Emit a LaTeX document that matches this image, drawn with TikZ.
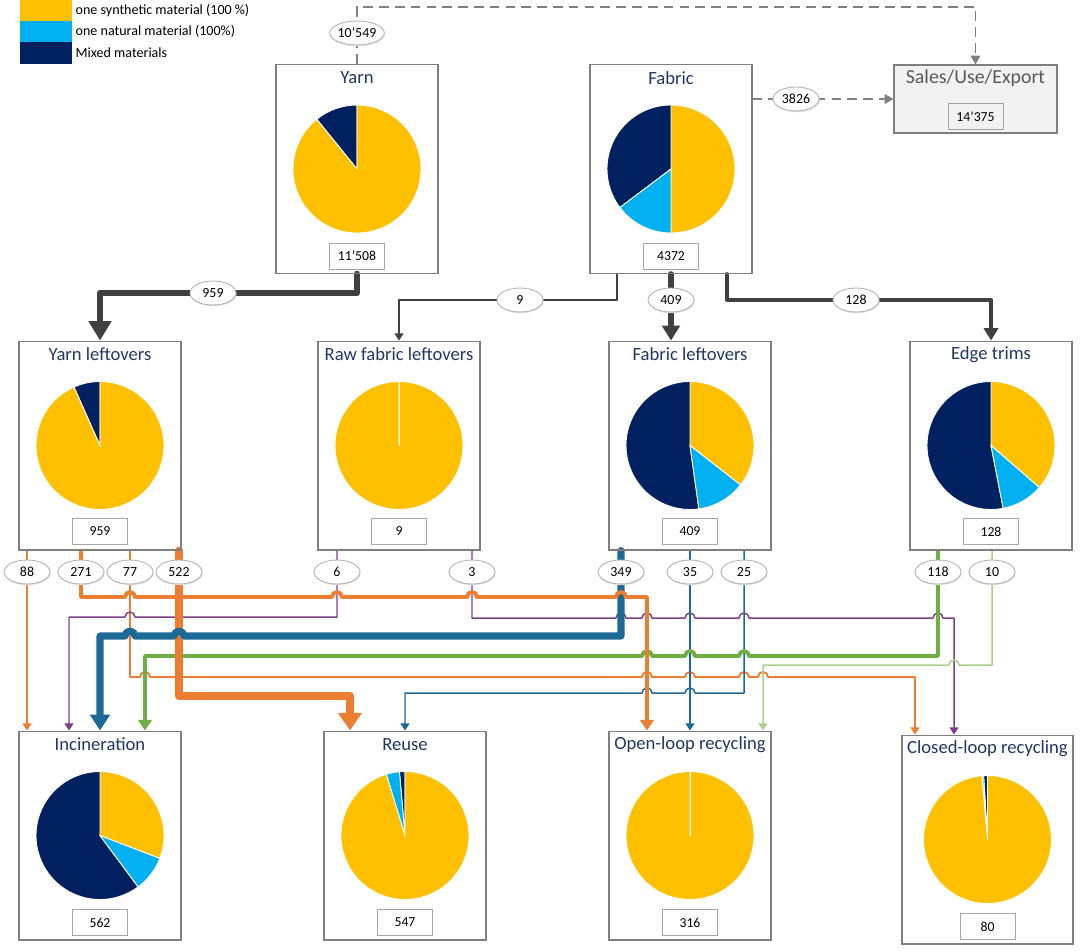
\documentclass[tikz,border=0pt]{standalone}
\usepackage{fontspec}
\setmainfont{Carlito}
\usetikzlibrary{arrows.meta,shapes.geometric,positioning,shadows}
\pgfdeclarelayer{bg}
\pgfsetlayers{bg,main}
\definecolor{ylw}{HTML}{FFC000}
\definecolor{cyn}{HTML}{00B0F0}
\definecolor{nvy}{HTML}{002060}
\definecolor{ttlblue}{HTML}{1F3864}
\definecolor{boxgray}{HTML}{7F7F7F}
\definecolor{org}{HTML}{ED7D31}
\definecolor{prp}{HTML}{7E3F88}
\definecolor{blu}{HTML}{1B6A96}
\definecolor{grn}{HTML}{70AD47}
\definecolor{lgrn}{HTML}{A9D18E}
\definecolor{dgray}{HTML}{404040}
\newcommand{\pierad}{1.28cm}
\newcommand{\pieslice}[4]{\fill[#1, draw=white, line width=0.5pt] (#2) -- ++(#3:\pierad) arc[start angle=#3, end angle=#4, radius=\pierad] -- cycle;}
\tikzset{
	box/.style={draw=boxgray, line width=0.6pt, minimum width=3.24cm, minimum height=4.18cm, inner sep=0pt},
	ttl/.style={text=ttlblue, font=\fontsize{10.6}{12}\selectfont, inner sep=0pt},
	val/.style={draw=black!35, line width=0.5pt, minimum width=1.1cm, minimum height=0.52cm, inner sep=0pt, font=\fontsize{7.8}{9}\selectfont},
	lbl/.style={ellipse, draw=black!30, fill=white, line width=0.5pt, minimum width=0.92cm, minimum height=0.48cm, inner sep=0pt, font=\fontsize{7.9}{9}\selectfont, general shadow={fill=black!12, shadow xshift=0.3pt, shadow yshift=-0.7pt}},
	swatch/.style={minimum width=1.04cm, minimum height=0.42cm, inner sep=0pt},
	lgd/.style={anchor=west, inner sep=0pt, font=\fontsize{8}{9.6}\selectfont},
	dsh/.style={draw=black!50, line width=0.8pt, dash pattern=on 5.5pt off 3.5pt, -{Triangle[length=5pt, width=5.5pt]}},
	wire/.style={line width=0.85pt, line cap=round, line join=round, -{Triangle[length=4pt, width=5pt]}},
	pipe/.style={line width=2.2pt, line cap=round, line join=round, -{Triangle[length=6pt, width=7.5pt]}},
	trunk/.style={line width=4.3pt, line cap=round, line join=round, -{Triangle[length=9pt, width=12pt]}},
	hr/.style 2 args={insert path={-- (#1-5,#2) arc[start angle=180, end angle=0, radius=0.1cm]}},
	hl/.style 2 args={insert path={-- (#1+5,#2) arc[start angle=0, end angle=180, radius=0.1cm]}}
}

\begin{document}
\begin{tikzpicture}[x=0.02cm, y=-0.02cm]
\useasboundingbox (0,0) rectangle (1080,951);
\path (46,10.5) node[swatch, fill=ylw] (sw1) {}
		(46,31.5) node[swatch, fill=cyn] (sw2) {}
		(46,53) node[swatch, fill=nvy, minimum height=0.44cm] (sw3) {}
		node[lgd, right=0.06cm of sw1] (lg1) {one synthetic material (100 \%)}
		node[lgd, right=0.06cm of sw2] (lg2) {one natural material (100\%)}
		node[lgd, right=0.06cm of sw3] (lg3) {Mixed materials};

\path (357,169) node[box] (yarn) {}
		(671,169) node[box] (fab) {}
		(975.5,99) node[box, fill=black!5, minimum width=3.26cm, minimum height=1.36cm, general shadow={fill=black!15, shadow xshift=0.8pt, shadow yshift=-0.8pt}] (sales) {}
		(100,445.5) node[box] (yl) {}
		(399,445.5) node[box] (rf) {}
		(690,445.5) node[box] (fl) {}
		(991,445.5) node[box] (et) {}
		(100,835.5) node[box] (inc) {}
		(405,835.5) node[box] (reu) {}
		(690,835.5) node[box] (ol) {}
		(987.5,839.5) node[box, minimum width=3.42cm] (cl) {};

\path ([yshift=-0.28cm]yarn.north) node[ttl] (yarn-t) {Yarn}
		([yshift=-0.28cm]fab.north) node[ttl] (fab-t) {Fabric}
		([yshift=-0.28cm]sales.north) node[ttl, text=black!65, font=\fontsize{11.3}{13}\selectfont] (sales-t) {Sales/Use/Export}
		([yshift=-0.28cm]yl.north) node[ttl] (yl-t) {Yarn leftovers}
		([yshift=-0.28cm]rf.north) node[ttl] (rf-t) {Raw fabric leftovers}
		([yshift=-0.28cm]fl.north) node[ttl] (fl-t) {Fabric leftovers}
		([yshift=-0.28cm]et.north) node[ttl] (et-t) {Edge trims}
		([yshift=-0.28cm]inc.north) node[ttl] (inc-t) {Incineration}
		([yshift=-0.28cm]reu.north) node[ttl] (reu-t) {Reuse}
		([yshift=-0.28cm]ol.north) node[ttl] (ol-t) {Open-loop recycling}
		([yshift=-0.28cm]cl.north) node[ttl] (cl-t) {Closed-loop recycling};

\path ([yshift=0.36cm]yarn.south) node[val] (yarn-v) {11'508}
		([yshift=0.36cm]fab.south) node[val] (fab-v) {4372}
		([yshift=0.34cm]sales.south) node[val] (sales-v) {14'375}
		([yshift=0.38cm]yl.south) node[val] (yl-v) {959}
		([yshift=0.38cm]rf.south) node[val] (rf-v) {9}
		([yshift=0.38cm]fl.south) node[val] (fl-v) {409}
		([yshift=0.38cm]et.south) node[val] (et-v) {128}
		([yshift=0.36cm]inc.south) node[val] (inc-v) {562}
		([yshift=0.36cm]reu.south) node[val] (reu-v) {547}
		([yshift=0.36cm]ol.south) node[val] (ol-v) {316}
		([yshift=0.36cm]cl.south) node[val] (cl-v) {80};

\pieslice{nvy}{yarn.center}{90}{129}
\pieslice{ylw}{yarn.center}{129}{450}
\pieslice{ylw}{fab.center}{-90}{90}
\pieslice{nvy}{fab.center}{90}{217}
\pieslice{cyn}{fab.center}{217}{270}
\pieslice{nvy}{yl.center}{90}{114}
\pieslice{ylw}{yl.center}{114}{450}
\pieslice{ylw}{rf.center}{90}{450}
\draw[white, line width=0.5pt] (rf.center) -- ++(90:\pierad);
\pieslice{ylw}{fl.center}{-38}{90}
\pieslice{nvy}{fl.center}{90}{278}
\pieslice{cyn}{fl.center}{278}{322}
\pieslice{ylw}{et.center}{-41}{90}
\pieslice{nvy}{et.center}{90}{281}
\pieslice{cyn}{et.center}{281}{319}
\pieslice{ylw}{inc.center}{-21}{90}
\pieslice{nvy}{inc.center}{90}{306.6}
\pieslice{cyn}{inc.center}{306.6}{339}
\pieslice{nvy}{reu.center}{90}{95}
\pieslice{cyn}{reu.center}{95}{107}
\pieslice{ylw}{reu.center}{107}{450}
\pieslice{ylw}{ol.center}{90}{450}
\draw[white, line width=0.5pt] (ol.center) -- ++(90:\pierad);
\pieslice{nvy}{cl.center}{90}{93.5}
\pieslice{cyn}{cl.center}{93.5}{95}
\pieslice{ylw}{cl.center}{95}{450}

\path (yarn.north |- 0,33) node[lbl] (l10549) {10'549}
		(796,99) node[lbl] (l3826) {3826}
		(213,293) node[lbl] (l959) {959}
		(520,300) node[lbl] (l9) {9}
		(fab.south |- 0,300) node[lbl] (l409) {409}
		(856,300) node[lbl] (l128) {128}
		(27,572) node[lbl] (l88) {88}
		(81,572) node[lbl] (l271) {271}
		(130,572) node[lbl] (l77) {77}
		(179,572) node[lbl] (l522) {522}
		(337,572) node[lbl] (l6) {6}
		(472,572) node[lbl] (l3) {3}
		(621,572) node[lbl] (l349) {349}
		(690,572) node[lbl] (l35) {35}
		(744,572) node[lbl] (l25) {25}
		(938,572) node[lbl] (l118) {118}
		(992,572) node[lbl] (l10) {10};

\begin{pgfonlayer}{bg}
\draw[dsh] (yarn.north) |- (sales.north |- 0,7) -- (sales.north);
\draw[dsh] (fab.east |- sales.west) -- (sales.west);
\draw[trunk, dgray, line width=3.8pt, -{Triangle[length=11pt, width=12.5pt]}] (yarn.south) |- (l959.center) -| (yl.north);
\draw[wire, dgray, line width=0.75pt] ([xshift=-1.08cm]fab.south) |- (l9.center) -| (rf.north);
\draw[trunk, dgray, line width=3.2pt, -{Triangle[length=8.5pt, width=10pt]}] (fab.south) -- (fab.south |- fl.north);
\draw[pipe, dgray, -{Triangle[length=7pt, width=8pt]}] ([xshift=1.12cm]fab.south) |- (l128.center) -| (et.north);

\draw[wire, org, line width=1.1pt] (l88 |- yl.south) -- (l88 |- inc.north);
\draw[wire, org, line width=1.1pt] (l77 |- yl.south) -- (130,677) [hr={145}{677}] [hr={647}{677}] [hr={690}{677}] [hr={744}{677}] [hr={763}{677}] -- (915,677) -- (cl.north -| 915,0);
\draw[wire, prp] (l6 |- rf.south) -- (337,617) [hl={130}{617}] -- (69,617) -- (inc.north -| 69,0);
\draw[wire, prp] (l3 |- rf.south) -- (472,618) [hr={621}{618}] [hr={647}{618}] [hr={690}{618}] [hr={744}{618}] [hr={938}{618}] -- (954,618) -- (cl.north -| 954,0);
\draw[wire, blu] (l35 |- fl.south) -- (l35 |- ol.north);
\draw[wire, blu] (l25 |- fl.south) -- (744,693) [hl={690}{693}] [hl={647}{693}] -| (reu.north);
\draw[wire, lgrn] (l10 |- et.south) -- (992,665) [hl={954}{665}] -- (763,665) -- (ol.north -| 763,0);
\draw[pipe, grn] (l118 |- et.south) -- (938,656) [hl={744}{656}] [hl={690}{656}] [hl={647}{656}] -- (145,656) -- (inc.north -| 145,0);
\draw[trunk, org, line width=4.5pt, -{Triangle[length=10pt, width=13pt]}] (l522 |- yl.south) -- (179,696) -| (reu.north -| 350,0);
\draw[trunk, blu, line width=4pt, -{Triangle[length=9pt, width=11pt]}] (l349 |- fl.south) -- (621,636) [hl={179}{636}] [hl={130}{636}] -| (inc.north);
\draw[pipe, org] (l271 |- yl.south) -- (81,597) [hr={130}{597}] [hr={337}{597}] [hr={472}{597}] [hr={621}{597}] -- (647,597) -- (ol.north -| 647,0);
\end{pgfonlayer}
\end{tikzpicture}
\end{document}
